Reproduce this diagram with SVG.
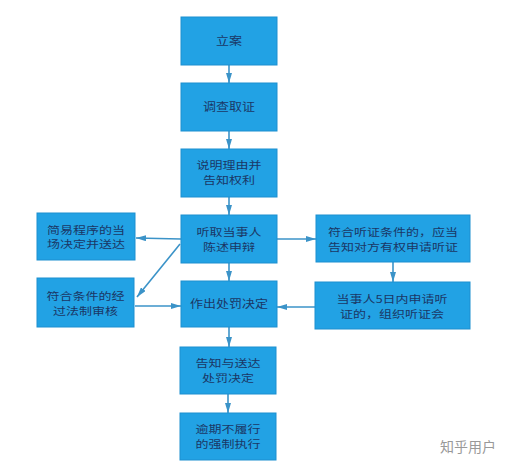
<svg xmlns="http://www.w3.org/2000/svg" width="520" height="466" viewBox="0 0 520 466">
<style>
.box{fill:#22a2e4;stroke:#1c8fd0;stroke-width:1}
.t{font-family:"Noto Sans CJK SC","Noto Sans",sans-serif;font-size:13px;fill:#1b3766;text-anchor:middle}
.c{stroke:#3b93c8;stroke-width:1.6;fill:none;marker-end:url(#ah)}
.wm{font-family:"Noto Sans CJK SC",sans-serif;font-size:14px;fill:#999999}
</style>
<defs>
<marker id="ah" viewBox="0 0 10 6" refX="10" refY="3" markerWidth="10" markerHeight="6" orient="auto" markerUnits="userSpaceOnUse">
<path d="M0,0 L10,3 L0,6 Z" fill="#3b93c8"/>
</marker>
</defs>
<rect width="520" height="466" fill="#ffffff"/>
<g id="connectors">
<line class="c" x1="229" y1="65" x2="229" y2="83"/>
<line class="c" x1="229" y1="131" x2="229" y2="149"/>
<line class="c" x1="229" y1="197" x2="229" y2="215"/>
<line class="c" x1="229" y1="263" x2="229" y2="281"/>
<line class="c" x1="229" y1="327" x2="229" y2="347"/>
<line class="c" x1="228" y1="394" x2="228" y2="413"/>
<line class="c" x1="181" y1="239" x2="136" y2="238"/>
<line class="c" x1="180" y1="244" x2="137" y2="297"/>
<line class="c" x1="135" y1="306" x2="181" y2="306"/>
<line class="c" x1="277" y1="239" x2="316" y2="239"/>
<line class="c" x1="393" y1="262" x2="393" y2="282"/>
<line class="c" x1="315" y1="307" x2="277" y2="307"/>
</g>
<g id="n1"><rect class="box" x="181" y="17" width="96" height="48"/><text class="t" transform="translate(229,45) scale(1,0.85)">立案</text></g>
<g id="n2"><rect class="box" x="181" y="83" width="96" height="48"/><text class="t" transform="translate(229,111) scale(1,0.85)">调查取证</text></g>
<g id="n3"><rect class="box" x="181" y="149" width="96" height="48"/><text class="t" transform="translate(229,169) scale(1,0.8)">说明理由并</text><text class="t" transform="translate(229,184) scale(1,0.8)">告知权利</text></g>
<g id="n4"><rect class="box" x="181" y="215" width="96" height="48"/><text class="t" transform="translate(229,235.5) scale(1,0.8)">听取当事人</text><text class="t" transform="translate(229,250.5) scale(1,0.8)">陈述申辩</text></g>
<g id="n5"><rect class="box" x="181" y="281" width="96" height="46"/><text class="t" transform="translate(229,308) scale(1,0.85)">作出处罚决定</text></g>
<g id="n6"><rect class="box" x="180" y="347" width="96" height="47"/><text class="t" transform="translate(228,367) scale(1,0.8)">告知与送达</text><text class="t" transform="translate(228,382) scale(1,0.8)">处罚决定</text></g>
<g id="n7"><rect class="box" x="180" y="413" width="96" height="47"/><text class="t" transform="translate(228,433) scale(1,0.8)">逾期不履行</text><text class="t" transform="translate(228,448) scale(1,0.8)">的强制执行</text></g>
<g id="l1"><rect class="box" x="37" y="213" width="98" height="47"/><text class="t" transform="translate(86,234) scale(1,0.8)">简易程序的当</text><text class="t" transform="translate(86,248) scale(1,0.8)">场决定并送达</text></g>
<g id="l2"><rect class="box" x="37" y="278" width="97" height="49"/><text class="t" transform="translate(85.5,300) scale(1,0.8)">符合条件的经</text><text class="t" transform="translate(85.5,315) scale(1,0.8)">过法制审核</text></g>
<g id="r1"><rect class="box" x="316" y="215" width="154" height="47"/><text class="t" transform="translate(393,236) scale(1,0.8)">符合听证条件的，应当</text><text class="t" transform="translate(393,251) scale(1,0.8)">告知对方有权申请听证</text></g>
<g id="r2"><rect class="box" x="315" y="282" width="155" height="47"/><text class="t" transform="translate(392,303) scale(1,0.8)">当事人5日内申请听</text><text class="t" transform="translate(392,318) scale(1,0.8)">证的，组织听证会</text></g>
<text class="wm" x="440" y="452">知乎用户</text>
</svg>
